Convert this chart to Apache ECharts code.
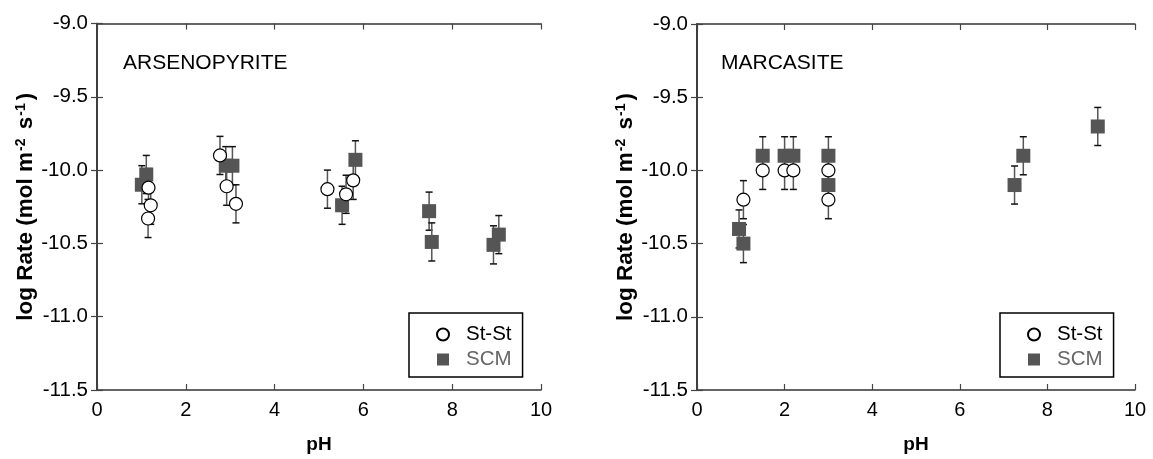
<!DOCTYPE html>
<html>
<head>
<meta charset="utf-8">
<script src="https://cdn.jsdelivr.net/npm/echarts@6/dist/echarts.min.js"></script>
<style>
html,body{margin:0;padding:0;background:#fff;}
#c{width:1153px;height:459px;}
</style>
</head>
<body>
<div id="c"></div>
<script>
// ---- data ----
const arsStStPH   = [1.16, 1.21, 1.15, 2.77, 2.92, 3.13, 5.19, 5.61, 5.77];
const arsStStLog  = [-10.12, -10.24, -10.33, -9.90, -10.11, -10.23, -10.13, -10.165, -10.07];
const arsStStErr  = [0.13, 0.13, 0.13, 0.13, 0.13, 0.13, 0.13, 0.13, 0.13];
const arsScmPH    = [1.01, 1.11, 2.90, 3.05, 5.52, 5.82, 7.48, 7.54, 8.93, 9.05];
const arsScmLog   = [-10.10, -10.03, -9.97, -9.97, -10.24, -9.93, -10.28, -10.49, -10.51, -10.44];
const arsScmErr   = [0.13, 0.13, 0.13, 0.13, 0.13, 0.13, 0.13, 0.13, 0.13, 0.13];

const marStStPH   = [1.06, 1.50, 2.00, 2.20, 3.00, 3.00];
const marStStLog  = [-10.20, -10.00, -10.00, -10.00, -10.00, -10.20];
const marStStErr  = [0.13, 0.13, 0.13, 0.13, 0.13, 0.13];
const marScmPH    = [0.96, 1.06, 1.50, 2.00, 2.20, 3.00, 3.00, 7.25, 7.45, 9.15];
const marScmLog   = [-10.40, -10.50, -9.90, -9.90, -9.90, -9.90, -10.10, -10.10, -9.90, -9.70];
const marScmErr   = [0.13, 0.13, 0.13, 0.13, 0.13, 0.13, 0.13, 0.13, 0.13, 0.13];

const panelTitles = ['ARSENOPYRITE', 'MARCASITE'];
const seriesNames = ['St-St', 'SCM'];
const xTicks = [0, 2, 4, 6, 8, 10];
const yTicks = [-11.5, -11.0, -10.5, -10.0, -9.5, -9.0];

// ---- build ----
const FONT = 'Liberation Sans, Arial, sans-serif';
function zip(a, b, c) { return a.map((v, i) => c ? [v, b[i], c[i]] : [v, b[i]]); }

function errRender(params, api) {
  const x = api.value(0), y = api.value(1), e = api.value(2);
  const p1 = api.coord([x, y + e]);
  const p2 = api.coord([x, y - e]);
  const w = 3.5;
  return {
    type: 'group',
    children: [
      {type: 'line', shape: {x1: p1[0], y1: p1[1], x2: p2[0], y2: p2[1]}, style: {stroke: '#555', lineWidth: 1.5}},
      {type: 'line', shape: {x1: p1[0] - w, y1: p1[1], x2: p1[0] + w, y2: p1[1]}, style: {stroke: '#111', lineWidth: 1.5}},
      {type: 'line', shape: {x1: p2[0] - w, y1: p2[1], x2: p2[0] + w, y2: p2[1]}, style: {stroke: '#111', lineWidth: 1.5}}
    ]
  };
}

const grids = [
  {left: 97, top: 23.5, width: 444, height: 370},
  {left: 697, top: 24, width: 438, height: 370}
];

const axisLine = {show: true, lineStyle: {color: '#333', width: 1.5}};
const axisTick = {show: true, inside: true, length: 6, lineStyle: {color: '#444', width: 1.2}};

const xAxes = [], yAxes = [];
for (let g = 0; g < 2; g++) {
  xAxes.push({
    type: 'value', gridIndex: g, position: 'bottom', min: xTicks[0], max: xTicks[xTicks.length - 1], interval: 2,
    axisLine, axisTick, splitLine: {show: false},
    axisLabel: {fontSize: 20, color: '#000', fontFamily: FONT, margin: 10},
    name: 'pH', nameLocation: 'middle', nameGap: 45,
    nameTextStyle: {fontSize: 19, fontWeight: 'bold', color: '#000', fontFamily: FONT}
  });
  xAxes.push({
    type: 'value', gridIndex: g, position: 'top', min: xTicks[0], max: xTicks[xTicks.length - 1], interval: 2,
    axisLine, axisTick, splitLine: {show: false}, axisLabel: {show: false}
  });
  yAxes.push({
    type: 'value', gridIndex: g, position: 'left', min: yTicks[0], max: yTicks[yTicks.length - 1], interval: 0.5,
    axisLine, axisTick, splitLine: {show: false},
    axisLabel: {fontSize: 20.5, color: '#000', fontFamily: FONT, margin: 9, formatter: v => v.toFixed(1)},
    name: 'log Rate (mol m{sup|-2} s{sup|-1})', nameLocation: 'middle', nameGap: 57,
    nameTextStyle: {fontSize: 22.5, fontWeight: 'bold', color: '#000', fontFamily: FONT,
      rich: {sup: {fontSize: 14, fontWeight: 'bold', color: '#000', fontFamily: FONT, verticalAlign: 'top', padding: [0, 3, 10, 1]}}}
  });
  yAxes.push({
    type: 'value', gridIndex: g, position: 'right', min: yTicks[0], max: yTicks[yTicks.length - 1], interval: 0.5,
    axisLine, axisTick, splitLine: {show: false}, axisLabel: {show: false}
  });
}

const panels = [
  {st: zip(arsStStPH, arsStStLog), stE: zip(arsStStPH, arsStStLog, arsStStErr),
   scm: zip(arsScmPH, arsScmLog), scmE: zip(arsScmPH, arsScmLog, arsScmErr)},
  {st: zip(marStStPH, marStStLog), stE: zip(marStStPH, marStStLog, marStStErr),
   scm: zip(marScmPH, marScmLog), scmE: zip(marScmPH, marScmLog, marScmErr)}
];

const series = [];
panels.forEach((p, g) => {
  const xi = g * 2, yi = g * 2;
  series.push({type: 'custom', name: 'SCM err ' + g, xAxisIndex: xi, yAxisIndex: yi, renderItem: errRender, data: p.scmE, z: 1, silent: true});
  series.push({type: 'custom', name: 'St err ' + g, xAxisIndex: xi, yAxisIndex: yi, renderItem: errRender, data: p.stE, z: 1, silent: true});
  series.push({type: 'scatter', name: seriesNames[1], xAxisIndex: xi, yAxisIndex: yi, data: p.scm, symbol: 'rect', symbolSize: 14,
    itemStyle: {color: '#555', opacity: 1}, z: 2});
  series.push({type: 'scatter', name: seriesNames[0], xAxisIndex: xi, yAxisIndex: yi, data: p.st, symbol: 'circle', symbolSize: 13,
    itemStyle: {color: '#fff', borderColor: '#000', borderWidth: 1.2, opacity: 1}, z: 3});
});

function legendAt(left) {
  return {
    left: left, top: 313, orient: 'vertical', itemGap: 4, itemWidth: 12, itemHeight: 12,
    padding: [11, 11, 7, 27], borderColor: '#000', borderWidth: 1.5, backgroundColor: '#fff',
    selectedMode: false,
    data: seriesNames,
    formatter: n => (n === 'SCM' ? '{g|' + n + '}' : '{s|' + n + '}'),
    textStyle: {fontSize: 20.5, fontFamily: FONT,
      rich: {s: {fontSize: 20.5, color: '#000', fontFamily: FONT, padding: [0, 0, 0, 12]},
             g: {fontSize: 20.5, color: '#666', fontFamily: FONT, padding: [0, 0, 0, 12]}}}
  };
}

const option = {
  animation: false,
  backgroundColor: '#fff',
  title: [
    {text: panelTitles[0], left: 118, top: 48, textStyle: {fontSize: 21, fontWeight: 'normal', color: '#000', fontFamily: FONT}},
    {text: panelTitles[1], left: 716, top: 48, textStyle: {fontSize: 21, fontWeight: 'normal', color: '#000', fontFamily: FONT}}
  ],
  grid: grids,
  xAxis: xAxes,
  yAxis: yAxes,
  legend: [legendAt(409), legendAt(1000)],
  series: series
};

const chart = echarts.init(document.getElementById('c'), null, {renderer: 'canvas'});
chart.setOption(option);
</script>
</body>
</html>
